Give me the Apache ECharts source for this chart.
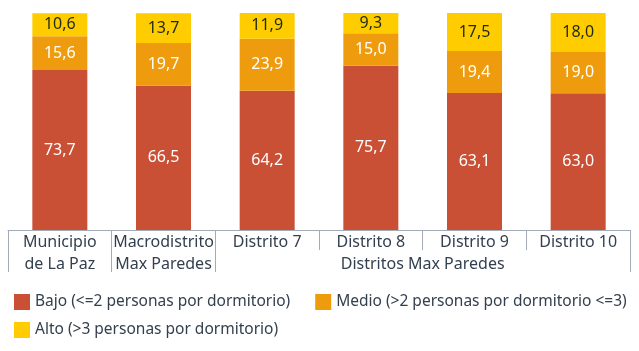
<!DOCTYPE html>
<html>
<head>
<meta charset="utf-8">
<script src="https://cdn.jsdelivr.net/npm/echarts@6/dist/echarts.min.js"></script>
<style>
  html, body { margin: 0; padding: 0; background: #fff; }
  #chart { width: 639px; height: 351px; }
</style>
</head>
<body>
<div id="chart"></div>
<script>
const categories = ['Municipio\nde La Paz', 'Macrodistrito\nMax Paredes', 'Distrito 7', 'Distrito 8', 'Distrito 9', 'Distrito 10'];
const groupLabel = 'Distritos Max Paredes';
const bajo = [73.7, 66.5, 64.2, 75.7, 63.1, 63.0];
const medio = [15.6, 19.7, 23.9, 15.0, 19.4, 19.0];
const alto = [10.6, 13.7, 11.9, 9.3, 17.5, 18.0];
const seriesNames = [
  'Bajo (<=2 personas por dormitorio)',
  'Medio (>2 personas por dormitorio <=3)',
  'Alto (>3 personas por dormitorio)',
];

const FONT = 'Noto Sans';
const textColor = '#34404f';
const lineColor = '#a3acb6';

const fmt = (p) => p.value.toFixed(1).replace('.', ',');

function makeSeries(name, data, color, labelColor) {
  return {
    name,
    type: 'bar',
    stack: 'total',
    barWidth: 55,
    data,
    itemStyle: {color},
    label: {
      show: true,
      position: 'inside',
      formatter: fmt,
      color: labelColor,
      fontFamily: FONT,
      fontSize: 16,
    },
  };
}

const chart = echarts.init(document.getElementById('chart'));
chart.setOption({
  animation: false,
  grid: {left: 8, right: 9, top: 13, bottom: 121},
  legend: [
    {
      data: [seriesNames[0], seriesNames[1]],
      left: 9,
      top: 289,
      width: 632,
      icon: 'rect',
      itemWidth: 16,
      itemHeight: 16,
      itemGap: 25,
      textStyle: {color: textColor, fontFamily: FONT, fontSize: 15.5},
    },
    {
      data: [seriesNames[2]],
      left: 9,
      top: 317,
      icon: 'rect',
      itemWidth: 16,
      itemHeight: 16,
      textStyle: {color: textColor, fontFamily: FONT, fontSize: 15.5},
    },
  ],
  xAxis: [
    {
      type: 'category',
      data: categories,
      position: 'bottom',
      axisLine: {show: true, lineStyle: {color: lineColor}},
      axisTick: {show: true, length: 20, interval: 0, lineStyle: {color: lineColor}},
      axisLabel: {
        interval: 0,
        margin: 1,
        color: textColor,
        fontFamily: FONT,
        fontSize: 16,
        lineHeight: 22,
      },
    },
    {
      type: 'value',
      min: 0,
      max: 6,
      position: 'bottom',
      axisLine: {show: false},
      splitLine: {show: false},
      axisTick: {show: true, length: 42, customValues: [0, 1, 2, 6], lineStyle: {color: lineColor}},
      axisLabel: {
        customValues: [4],
        formatter: () => groupLabel,
        margin: 23,
        color: textColor,
        fontFamily: FONT,
        fontSize: 16,
        lineHeight: 22,
      },
    },
  ],
  yAxis: {type: 'value', min: 0, max: 100, show: false},
  series: [
    makeSeries(seriesNames[0], bajo, '#c94f35', '#ffffff'),
    makeSeries(seriesNames[1], medio, '#ee9c0e', '#ffffff'),
    makeSeries(seriesNames[2], alto, '#ffcc00', '#1e2a10'),
  ],
});
</script>
</body>
</html>
